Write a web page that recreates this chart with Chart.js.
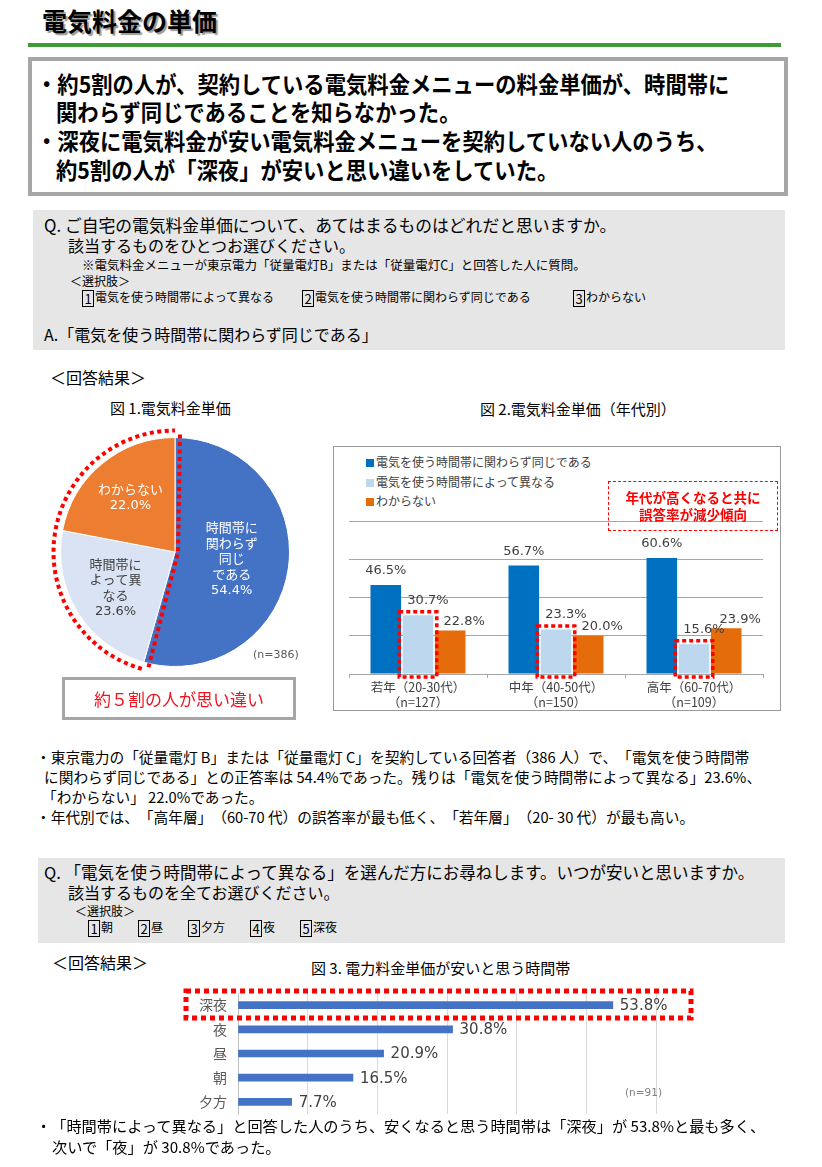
<!DOCTYPE html>
<html lang="ja">
<head>
<meta charset="utf-8">
<title>電気料金の単価</title>
<script src="https://cdn.jsdelivr.net/npm/chart.js@4.4.0/dist/chart.umd.min.js"></script>
<style>
  body { margin: 0; background: #fff; width: 822px; height: 1167px; position: relative; overflow: hidden;
         font-family: "Noto Sans CJK JP", sans-serif; color: #000; text-spacing-trim: space-all; }
  .t { position: absolute; white-space: nowrap; line-height: 1; }
  .big { font-size: 23px; font-weight: 700; transform: scaleX(0.927); transform-origin: left center; }
  .q { font-size: 16px; }
  .s { font-size: 12px; }
  .p { font-size: 14.7px; }
  .num { display: inline-block; border: 1px solid #000; width: 10px; height: 15px; line-height: 15px;
         text-align: center; font-size: 13px; margin-right: 1px; vertical-align: middle; }
  .qbox { position: absolute; background: #e7e6e6; }
  canvas { position: absolute; }
</style>
</head>
<body>

<div class="t" style="left:42px;top:8px;font-size:25px;font-weight:700;text-shadow:2px 2px 1px #9a9a9a;">電気料金の単価</div>
<div style="position:absolute;left:28px;top:43px;width:753px;height:4px;background:#3f9b35;"></div>

<div style="position:absolute;left:28px;top:57px;width:760px;height:139px;border:4px solid #a6a6a6;box-sizing:border-box;"></div>
<div class="t big" style="left:36px;top:72px;">・約5割の人が、契約している電気料金メニューの料金単価が、時間帯に</div>
<div class="t big" style="left:56px;top:100px;">関わらず同じであることを知らなかった。</div>
<div class="t big" style="left:36px;top:129px;">・深夜に電気料金が安い電気料金メニューを契約していない人のうち、</div>
<div class="t big" style="left:56px;top:158px;">約5割の人が「深夜」が安いと思い違いをしていた。</div>

<div class="qbox" style="left:33px;top:210px;width:752px;height:140px;"></div>
<div class="t q" style="left:44px;top:217px;font-size:16.8px;">Q. ご自宅の電気料金単価について、あてはまるものはどれだと思いますか。</div>
<div class="t q" style="left:68px;top:237px;">該当するものをひとつお選びください。</div>
<div class="t" style="left:82px;top:259px;font-size:12.5px;">※電気料金メニューが東京電力「従量電灯B」または「従量電灯C」と回答した人に質問。</div>
<div class="t s" style="left:70px;top:275px;">＜選択肢＞</div>
<div class="t s" style="left:82px;top:290px;"><span class="num">1</span>電気を使う時間帯によって異なる</div>
<div class="t s" style="left:302px;top:290px;"><span class="num">2</span>電気を使う時間帯に関わらず同じである</div>
<div class="t s" style="left:573px;top:290px;"><span class="num">3</span>わからない</div>
<div class="t q" style="left:44px;top:326px;">A.「電気を使う時間帯に関わらず同じである」</div>

<div class="t q" style="left:50px;top:369px;">＜回答結果＞</div>
<div class="t" style="left:110px;top:400px;font-size:15px;">図 1.電気料金単価</div>
<div class="t" style="left:480px;top:401px;font-size:15px;">図 2.電気料金単価（年代別）</div>

<canvas id="pie" width="260" height="260" style="left:45px;top:422px;width:260px;height:260px;"></canvas>
<div class="t" style="left:253px;top:649px;font-size:11px;color:#595959;font-family:'DejaVu Sans','Noto Sans CJK JP';">(n=386)</div>
<div style="position:absolute;left:62px;top:677px;width:234px;height:43px;border:3px solid #a6a6a6;box-sizing:border-box;
            display:flex;align-items:center;justify-content:center;color:#f0141e;font-size:17px;">約５割の人が思い違い</div>

<div style="position:absolute;left:333px;top:446px;width:448px;height:265px;border:1.5px solid #9a9a9a;box-sizing:border-box;"></div>
<div id="legend2"></div>
<canvas id="bars" width="446" height="263" style="left:334px;top:447px;width:446px;height:263px;"></canvas>
<div style="position:absolute;left:608px;top:481px;width:170px;height:50px;border:1.5px dashed #ff0000;box-sizing:border-box;
            color:#ff0000;font-weight:700;font-size:13.5px;line-height:17px;text-align:center;padding-top:7px;">年代が高くなると共に<br>誤答率が減少傾向</div>

<div class="t p" style="left:36px;top:750px;">・東京電力の「従量電灯 B」または「従量電灯 C」を契約している回答者（386 人）で、「電気を使う時間帯</div>
<div class="t p" style="left:44px;top:770px;">に関わらず同じである」との正答率は 54.4%であった。残りは「電気を使う時間帯によって異なる」23.6%、</div>
<div class="t p" style="left:42px;top:790px;">「わからない」 22.0%であった。</div>
<div class="t p" style="left:36px;top:810px;">・年代別では、「高年層」（60-70 代）の誤答率が最も低く、「若年層」（20- 30 代）が最も高い。</div>

<div class="qbox" style="left:38px;top:858px;width:747px;height:85px;"></div>
<div class="t q" style="left:44px;top:864px;font-size:16.5px;">Q. 「電気を使う時間帯によって異なる」を選んだ方にお尋ねします。いつが安いと思いますか。</div>
<div class="t q" style="left:68px;top:884px;">該当するものを全てお選びください。</div>
<div class="t s" style="left:75px;top:905px;">＜選択肢＞</div>
<div class="t s" style="left:88px;top:920px;"><span class="num">1</span>朝</div>
<div class="t s" style="left:138px;top:920px;"><span class="num">2</span>昼</div>
<div class="t s" style="left:188px;top:920px;"><span class="num">3</span>夕方</div>
<div class="t s" style="left:250px;top:920px;"><span class="num">4</span>夜</div>
<div class="t s" style="left:300px;top:920px;"><span class="num">5</span>深夜</div>

<div class="t q" style="left:52px;top:954px;">＜回答結果＞</div>
<div class="t" style="left:311px;top:960px;font-size:15px;">図 3. 電力料金単価が安いと思う時間帯</div>
<canvas id="hbar" width="560" height="135" style="left:150px;top:985px;width:560px;height:135px;"></canvas>
<div class="t" style="left:625px;top:1087px;font-size:10.5px;color:#7f7f7f;font-family:'DejaVu Sans','Noto Sans CJK JP';">(n=91)</div>

<div class="t" style="left:36px;top:1118px;font-size:15.2px;">・「時間帯によって異なる」と回答した人のうち、安くなると思う時間帯は「深夜」が 53.8%と最も多く、</div>
<div class="t" style="left:52px;top:1139px;font-size:15.2px;">次いで「夜」が 30.8%であった。</div>

<script>
// 図1
const pieLabels = ['時間帯に関わらず同じである', '時間帯によって異なる', 'わからない'];
const pieValues = [54.4, 23.6, 22.0];
const pieTexts = [['時間帯に', '関わらず', '同じ', 'である'], ['時間帯に', 'よって異', 'なる'], ['わからない']];

// 図2
const ageLabels = [['若年（20-30代）', '（n=127）'], ['中年（40-50代）', '（n=150）'], ['高年（60-70代）', '（n=109）']];
const seriesNames = ['電気を使う時間帯に関わらず同じである', '電気を使う時間帯によって異なる', 'わからない'];
const sameValues = [46.5, 56.7, 60.6];
const differentValues = [30.7, 23.3, 15.6];
const unknownValues = [22.8, 20.0, 23.9];

// 図3
const slotLabels = ['深夜', '夜', '昼', '朝', '夕方'];
const slotValues = [53.8, 30.8, 20.9, 16.5, 7.7];

const seriesColors = ['#0070c0', '#bdd7ee', '#e46c0a'];

// legend for fig 2
const legendBox = document.getElementById('legend2');
seriesNames.forEach((name, i) => {
    const d = document.createElement('div');
    d.className = 't';
    d.style.cssText = 'left:366px;top:' + (456 + i * 19.5) + 'px;font-size:12px;color:#404040;';
    d.innerHTML = '<span style="display:inline-block;width:8px;height:8px;margin-right:2px;background:' +
        seriesColors[i] + '"></span>' + name;
    legendBox.appendChild(d);
});

const pieExtras = {
    id: 'pieExtras',
    afterDatasetsDraw(chart) {
        const ctx = chart.ctx;
        const arcs = chart.getDatasetMeta(0).data;
        const first = arcs[0];
        const cx = first.x, cy = first.y, r = first.outerRadius;
        const colors = ['#ffffff', '#404040', '#ffffff'];
        const rho = [0.5, 0.61, 0.61];
        ctx.save();
        ctx.textAlign = 'center';
        ctx.textBaseline = 'middle';
        ctx.font = '13px "DejaVu Sans", "Noto Sans CJK JP"';
        arcs.forEach((arc, i) => {
            const mid = (arc.startAngle + arc.endAngle) / 2;
            const lines = pieTexts[i].concat([pieValues[i].toFixed(1) + '%']);
            const x = cx + Math.cos(mid) * r * rho[i];
            const y = cy + Math.sin(mid) * r * rho[i];
            ctx.fillStyle = colors[i];
            lines.forEach((s, k) => ctx.fillText(s, x, y + (k - (lines.length - 1) / 2) * 15.5));
        });

        // red dotted outline round the wrong answers
        const end = first.endAngle, start = first.startAngle;
        ctx.strokeStyle = '#ff0000';
        ctx.lineWidth = 4;
        ctx.setLineDash([4, 3.5]);
        ctx.beginPath();
        ctx.arc(cx, cy, r + 7, end, start + Math.PI * 2);
        ctx.stroke();
        ctx.beginPath();
        ctx.moveTo(cx + 5, cy - r - 3);
        ctx.lineTo(cx + 3, cy);
        ctx.lineTo(cx + Math.cos(end) * (r + 5) + Math.sin(end) * 6,
                   cy + Math.sin(end) * (r + 5) - Math.cos(end) * 6);
        ctx.stroke();
        ctx.restore();
    }
};

new Chart(document.getElementById('pie'), {
    type: 'pie',
    data: {
        labels: pieLabels,
        datasets: [{
            data: pieValues,
            backgroundColor: ['#4472c4', '#dae3f3', '#ed7d31'],
            borderColor: '#ffffff',
            borderWidth: 1
        }]
    },
    options: {
        responsive: false,
        animation: false,
        layout: { padding: 15 },
        plugins: { legend: { display: false }, tooltip: { enabled: false } }
    },
    plugins: [pieExtras]
});

const barExtras = {
    id: 'barExtras',
    afterDatasetsDraw(chart) {
        const ctx = chart.ctx;
        ctx.save();
        ctx.strokeStyle = '#ff0000';
        ctx.lineWidth = 3.5;
        ctx.setLineDash([4, 3]);
        chart.getDatasetMeta(1).data.forEach(b => {
            const half = b.width / 2 + 3.5;
            ctx.strokeRect(b.x - half, b.y - 3.5, half * 2, b.base - b.y + 7);
        });
        ctx.setLineDash([]);
        ctx.font = '13px "DejaVu Sans"';
        ctx.fillStyle = '#404040';
        ctx.textAlign = 'center';
        ctx.textBaseline = 'middle';
        const shiftX = [0, 10, 14];
        const shiftY = [14, 15, 9];
        chart.data.datasets.forEach((ds, i) => {
            chart.getDatasetMeta(i).data.forEach((b, j) => {
                ctx.fillText(ds.data[j].toFixed(1) + '%', b.x + shiftX[i], b.y - shiftY[i]);
            });
        });
        ctx.restore();
    }
};

new Chart(document.getElementById('bars'), {
    type: 'bar',
    data: {
        labels: ageLabels,
        datasets: [
            { label: seriesNames[0], data: sameValues, backgroundColor: seriesColors[0] },
            { label: seriesNames[1], data: differentValues, backgroundColor: seriesColors[1] },
            { label: seriesNames[2], data: unknownValues, backgroundColor: seriesColors[2] }
        ]
    },
    options: {
        responsive: false,
        animation: false,
        categoryPercentage: 0.7,
        barPercentage: 0.95,
        layout: { padding: { left: 15, right: 17, top: 74, bottom: 0 } },
        plugins: { legend: { display: false }, tooltip: { enabled: false } },
        scales: {
            x: {
                grid: { display: true, drawOnChartArea: false, drawTicks: true, tickLength: 4, color: '#a6a6a6' },
                border: { color: '#a6a6a6' },
                ticks: { color: '#404040', padding: 1, maxRotation: 0,
                         font: { family: '"Noto Sans CJK JP"', size: 12.5, lineHeight: 1.25 } },
                afterFit: s => { s.height = 36; }
            },
            y: {
                min: 0, max: 80,
                ticks: { display: false, stepSize: 20 },
                grid: { color: '#a6a6a6', drawTicks: false },
                border: { display: false },
                afterFit: s => { s.width = 0; }
            }
        }
    },
    plugins: [barExtras]
});

const hbarExtras = {
    id: 'hbarExtras',
    afterDatasetsDraw(chart) {
        const ctx = chart.ctx;
        const bars = chart.getDatasetMeta(0).data;
        ctx.save();
        ctx.font = '15px "DejaVu Sans"';
        ctx.fillStyle = '#404040';
        ctx.textBaseline = 'middle';
        bars.forEach((b, i) => ctx.fillText(slotValues[i].toFixed(1) + '%', b.x + 7, b.y + 1));
        const top = bars[0];
        ctx.strokeStyle = '#ff0000';
        ctx.lineWidth = 5;
        ctx.setLineDash([5, 4]);
        ctx.strokeRect(chart.chartArea.left - 52, top.y - 14, chart.chartArea.right - chart.chartArea.left + 87, 27);
        ctx.restore();
    }
};

new Chart(document.getElementById('hbar'), {
    type: 'bar',
    data: {
        labels: slotLabels,
        datasets: [{ data: slotValues, backgroundColor: '#4472c4', barThickness: 7 }]
    },
    options: {
        indexAxis: 'y',
        responsive: false,
        animation: false,
        layout: { padding: { left: 0, right: 54, top: 8, bottom: 6 } },
        plugins: { legend: { display: false }, tooltip: { enabled: false } },
        scales: {
            x: {
                min: 0, max: 60,
                ticks: { display: false, stepSize: 10 },
                grid: { color: '#d9d9d9', drawTicks: false },
                border: { display: false },
                afterFit: s => { s.height = 0; }
            },
            y: {
                grid: { display: false, drawTicks: false },
                border: { display: true, color: '#bfbfbf' },
                ticks: { color: '#595959', padding: 11, font: { family: '"Noto Sans CJK JP"', size: 14 } },
                afterFit: s => { s.width = 88; s.paddingTop = 0; s.paddingBottom = 0; }
            }
        }
    },
    plugins: [hbarExtras]
});
</script>
</body>
</html>
